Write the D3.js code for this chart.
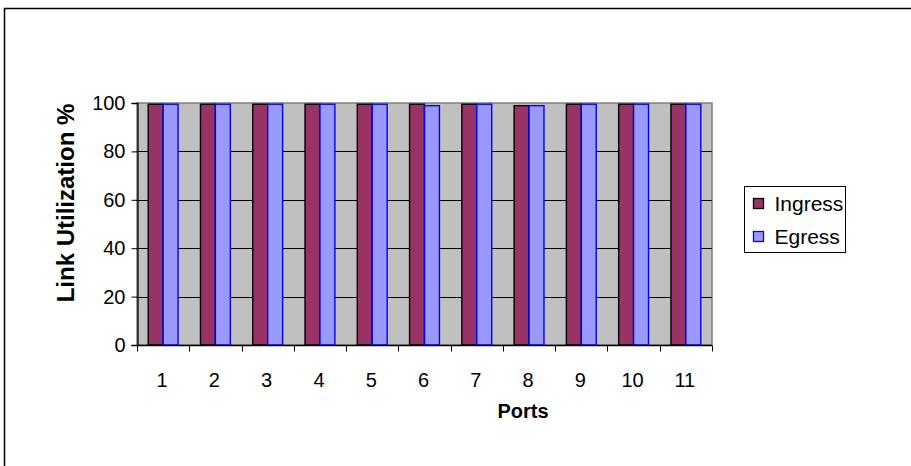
<!DOCTYPE html>
<html>
<head>
<meta charset="utf-8">
<script src="https://cdn.jsdelivr.net/npm/d3@7"></script>
<style>
  html, body { margin: 0; padding: 0; background: #fff; }
  svg { display: block; font-family: "Liberation Sans", Arial, sans-serif; }
</style>
</head>
<body>
<svg id="chart" width="911" height="466"></svg>
<script>
// Link utilization per port
const ports = ["1", "2", "3", "4", "5", "6", "7", "8", "9", "10", "11"];
const ingress = [99.5, 99.5, 99.5, 99.5, 99.5, 99.5, 99.5, 98.9, 99.5, 99.5, 99.5];
const egress  = [99.5, 99.5, 99.5, 99.5, 99.5, 98.9, 99.5, 98.9, 99.5, 99.5, 99.5];
const seriesNames = ["Ingress", "Egress"];
const yTicks = [0, 20, 40, 60, 80, 100];

const svg = d3.select("#chart");

// outer frame (top and left edges)
svg.append("path")
  .attr("d", "M4.5,466 V8.5 H911")
  .attr("fill", "none").attr("stroke", "#000").attr("stroke-width", 1.5);

const plot = { left: 137, right: 712, top: 103, bottom: 345 };

const x = d3.scaleBand().domain(ports).range([plot.left, plot.right]).paddingInner(0).paddingOuter(0);
const y = d3.scaleLinear().domain([0, 100]).range([plot.bottom, plot.top]);

// plot area background
svg.append("rect")
  .attr("x", plot.left).attr("y", plot.top)
  .attr("width", plot.right - plot.left).attr("height", plot.bottom - plot.top)
  .attr("fill", "#c0c0c0").attr("stroke", "#808080").attr("stroke-width", 1.5);

// horizontal gridlines
svg.append("g").selectAll("line")
  .data(yTicks.filter(t => t > 0 && t < 100))
  .join("line")
  .attr("x1", plot.left).attr("x2", plot.right)
  .attr("y1", d => Math.round(y(d)) + 0.5).attr("y2", d => Math.round(y(d)) + 0.5)
  .attr("stroke", "#000").attr("stroke-width", 1);

// bars: each group is 2 bars, gap 150% of bar width
const bw = x.bandwidth() / 3.5;
const rows = ports.map((p, i) => ({ port: p, vals: [ingress[i], egress[i]] }));
const fills = ["#993366", "#9999ff"];
const strokes = ["#000000", "#0000ff"];

const groups = svg.append("g").selectAll("g")
  .data(rows).join("g")
  .attr("transform", d => `translate(${x(d.port) + x.bandwidth() / 2 - bw},0)`);

groups.selectAll("rect")
  .data(d => d.vals.map((v, k) => ({ v, k })))
  .join("rect")
  .attr("x", d => d.k * bw)
  .attr("y", d => y(d.v))
  .attr("width", bw)
  .attr("height", d => y(0) - y(d.v))
  .attr("fill", d => fills[d.k])
  .attr("stroke", d => strokes[d.k])
  .attr("stroke-width", 1.4);

// y axis
const yAxis = svg.append("g")
  .attr("transform", `translate(${plot.left + 0.5},0)`)
  .call(d3.axisLeft(y).tickValues(yTicks).tickSize(6).tickPadding(6));
yAxis.select(".domain").attr("stroke", "#000").attr("stroke-width", 1.3);
yAxis.selectAll(".tick line").attr("stroke", "#000");
yAxis.selectAll("text").attr("font-size", 20).attr("fill", "#000")
  .attr("font-family", "Liberation Sans, Arial, sans-serif");

// x axis: ticks on category boundaries, labels centered in each category
const xAxisG = svg.append("g").attr("transform", `translate(0,${plot.bottom + 0.5})`);
xAxisG.append("line")
  .attr("x1", plot.left).attr("x2", plot.right)
  .attr("stroke", "#000").attr("stroke-width", 1.3);
xAxisG.selectAll("line.tk")
  .data(ports.map(p => x(p)).concat([plot.right]))
  .join("line").attr("class", "tk")
  .attr("x1", d => Math.round(d) + 0.5).attr("x2", d => Math.round(d) + 0.5)
  .attr("y1", 0).attr("y2", 6)
  .attr("stroke", "#000");
xAxisG.selectAll("text")
  .data(ports).join("text")
  .attr("x", d => x(d) + x.bandwidth() / 2 - 1)
  .attr("y", 41)
  .attr("text-anchor", "middle")
  .attr("font-size", 20)
  .text(d => d);

// axis titles
svg.append("text")
  .attr("x", 523).attr("y", 418)
  .attr("text-anchor", "middle")
  .attr("font-size", 20).attr("font-weight", "bold")
  .text("Ports");

svg.append("text")
  .attr("transform", "translate(74,203) rotate(-90)")
  .attr("text-anchor", "middle")
  .attr("font-size", 24).attr("font-weight", "bold")
  .text("Link Utilization %");

// legend
const legend = svg.append("g").attr("transform", "translate(744.5,186.5)");
legend.append("rect")
  .attr("width", 101).attr("height", 66)
  .attr("fill", "#fff").attr("stroke", "#000").attr("stroke-width", 1);
seriesNames.forEach((name, k) => {
  const row = legend.append("g").attr("transform", `translate(0,${17 + k * 33})`);
  row.append("rect")
    .attr("x", 9).attr("y", -5).attr("width", 10).attr("height", 10)
    .attr("fill", fills[k]).attr("stroke", strokes[k]).attr("stroke-width", 1.3);
  row.append("text")
    .attr("x", 30).attr("y", 7.5)
    .attr("font-size", 21)
    .text(name);
});
</script>
</body>
</html>
